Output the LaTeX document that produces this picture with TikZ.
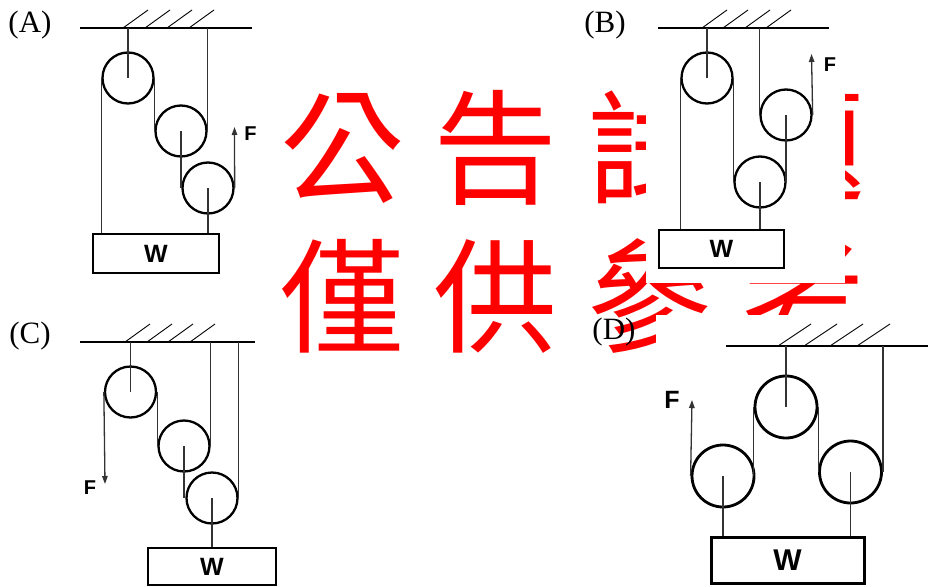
\documentclass[tikz,border=0pt]{standalone}
\usepackage{fontspec}
\setmainfont{Liberation Serif}
\setsansfont{Liberation Sans}
\newfontfamily\cjk{Noto Sans CJK TC}
\usetikzlibrary{arrows.meta}
\begin{document}
\begin{tikzpicture}[x=1pt,y=-1pt,
  rope/.style={line width=1.3pt,draw=black!80},
  pulley/.style={circle,draw,line width=2.3pt,inner sep=0pt,minimum size=51pt},
  bigpulley/.style={circle,draw,line width=2.8pt,inner sep=0pt,minimum size=62pt},
  ceil/.style={line width=2.8pt},
  hatch/.style={line width=0.9pt},
  wbox/.style={draw,line width=2.5pt,inner sep=0pt,font=\sffamily\bfseries\fontsize{25}{25}\selectfont},
  flab/.style={inner sep=0pt,font=\sffamily\bfseries\fontsize{20}{20}\selectfont},
  lab/.style={inner sep=0pt,font=\fontsize{31}{31}\selectfont},
  arr/.style={rope,-{Triangle[length=8pt,width=5.5pt]}},
  wm/.style={inner sep=0pt,text=red,font=\cjk\fontsize{124}{124}\selectfont}
]
\useasboundingbox[fill=white] (0,0) rectangle (928,586);

% watermark
\node[wm] (w1) at (342,148) {公};
\node[wm] (w2) at (495,148) {告};
\node[wm] (w3) at (649,148) {試};
\node[wm] (w4) at (803,148) {題};
\node[wm] (w5) at (342,296) {僅};
\node[wm] (w6) at (495,296) {供};
\node[wm] (w7) at (649,296) {參};
\node[wm] (w8) at (803,296) {考};
\fill[white] (646,0) rectangle (845,283);
\fill[white] (656,315) rectangle (928,586);

% ================= (A)
\node[lab] (la) at (30,25) {(A)};
\coordinate (ca1) at (80,28);
\coordinate (ca2) at (252,28);
\draw[ceil] (ca1) -- (ca2);
\foreach \x in {123,145,167,189} \draw[hatch] (\x,28) -- ++(25,-18);
\node[pulley] (a1) at (128,78) {};
\node[pulley] (a2) at (181,131) {};
\node[pulley] (a3) at (208,188) {};
\node[wbox,minimum width=126pt,minimum height=39pt] (aw) at (156,253.5) {W};
\draw[rope] (a1.center) -- (a1.center |- ca1);
\draw[rope] (a1.west) -- (a1.west |- aw.north);
\draw[rope] (a1.east) -- (a1.east |- a2.center);
\draw[rope] (a2.east) -- (a2.east |- ca1);
\draw[rope] (a2.center) -- (a2.center |- a3.center);
\draw[rope] (a3.center) -- (a3.center |- aw.north);
\coordinate (fa) at (234.5,127);
\draw[arr] (a3.east) -- (fa);
\node[flab] (lfa) at (250.5,134) {F};

% ================= (B)
\node[lab] (lb) at (605,25) {(B)};
\coordinate (cb1) at (658,28);
\coordinate (cb2) at (829,28);
\draw[ceil] (cb1) -- (cb2);
\foreach \x in {702,723,745,766} \draw[hatch] (\x,28) -- ++(25,-18);
\node[pulley] (b1) at (707,78) {};
\node[pulley] (b2) at (786,115) {};
\node[pulley] (b3) at (760,182) {};
\node[wbox,minimum width=125pt,minimum height=38pt] (bw) at (721.5,249) {W};
\draw[rope] (b1.center) -- (b1.center |- cb1);
\draw[rope] (b1.west) -- (b1.west |- bw.north);
\draw[rope] (b1.east) -- (b1.east |- b3.center);
\draw[rope] (b2.west) -- (b2.west |- cb1);
\draw[rope] (b2.center) -- (b2.center |- b3.center);
\draw[rope] (b3.center) -- (b3.center |- bw.north);
\coordinate (fb) at (811.5,54);
\draw[arr] (b2.east) -- (fb);
\node[flab] (lfb) at (830,65) {F};

% ================= (C)
\node[lab] (lc) at (30,336) {(C)};
\coordinate (cc1) at (80,342);
\coordinate (cc2) at (255,342);
\draw[ceil] (cc1) -- (cc2);
\foreach \x in {125,147,168,190} \draw[hatch] (\x,342) -- ++(25,-18);
\node[pulley] (c1) at (130.5,392) {};
\node[pulley] (c2) at (184,446) {};
\node[pulley] (c3) at (212,498) {};
\node[wbox,minimum width=128pt,minimum height=37pt] (cw) at (212,566.5) {W};
\draw[rope] (c1.center) -- (c1.center |- cc1);
\draw[rope] (c1.east) -- (c1.east |- c2.center);
\draw[rope] (c2.east) -- (c2.east |- cc1);
\draw[rope] (c2.center) -- (c2.center |- c3.center);
\draw[rope] (c3.east) -- (c3.east |- cc1);
\draw[rope] (c3.center) -- (c3.center |- cw.north);
\coordinate (fc) at (105,484);
\draw[arr] (c1.west) -- (fc);
\node[flab] (lfc) at (90,488) {F};

% ================= (D)
\node[lab] (ld) at (614,332) {(D)};
\coordinate (cd1) at (726,346);
\coordinate (cd2) at (928,346);
\draw[ceil] (cd1) -- (cd2);
\foreach \x in {778,804,830,857} \draw[hatch] (\x,346) -- ++(33,-22);
\node[bigpulley] (d1) at (786,407) {};
\node[bigpulley] (d2) at (723,476) {};
\node[bigpulley] (d3) at (850.5,472) {};
\node[wbox,line width=3pt,minimum width=153pt,minimum height=46pt,font=\sffamily\bfseries\fontsize{30}{30}\selectfont] (dw) at (787.5,560) {W};
\draw[rope] (d1.center) -- (d1.center |- cd1);
\draw[rope] (d1.west) -- (d1.west |- d2.center);
\draw[rope] (d1.east) -- (d1.east |- d3.center);
\draw[rope] (d3.east) -- (d3.east |- cd1);
\draw[rope] (d2.center) -- (d2.center |- dw.north);
\draw[rope] (d3.center) -- (d3.center |- dw.north);
\coordinate (fd) at (692,400);
\draw[arr] (d2.west) -- (fd);
\node[flab,font=\sffamily\bfseries\fontsize{25}{25}\selectfont] (lfd) at (672,400) {F};
\end{tikzpicture}
\end{document}
